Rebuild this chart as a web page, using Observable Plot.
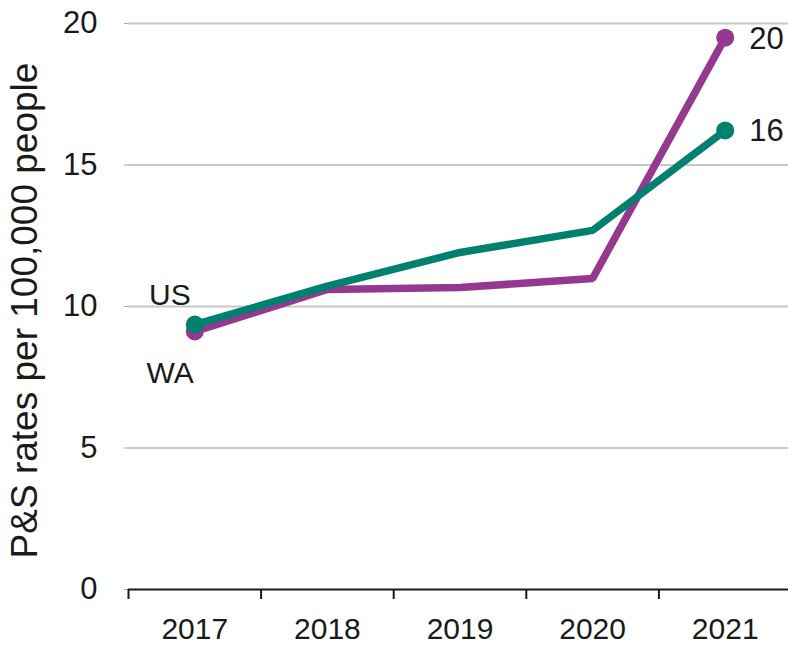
<!DOCTYPE html>
<html><head><meta charset="utf-8">
<script src="https://cdn.jsdelivr.net/npm/d3@7"></script>
<script src="https://cdn.jsdelivr.net/npm/@observablehq/plot@0.6"></script>
<style>
body{margin:0;background:#fff}
svg{font-family:"Liberation Sans",Arial,Helvetica,sans-serif}
</style>
</head><body><div id="chart"></div>
<script>
const years = [2017, 2018, 2019, 2020, 2021];
const waValues = [9.12, 10.6, 10.67, 10.99, 19.5];
const usValues = [9.36, 10.72, 11.91, 12.69, 16.22];
const yTicks = [0, 5, 10, 15, 20];
const gridTicks = [5, 10, 15, 20];
const bandEdges = [2016.5, 2017.5, 2018.5, 2019.5, 2020.5];
const seriesNames = ["WA", "US"];
const seriesColors = ["#953890", "#00806F"];
const yLabel = "P&S rates per 100,000 people";

const rows = [];
years.forEach((yr, i) => {
  rows.push({series: "WA", year: yr, value: waValues[i]});
});
years.forEach((yr, i) => {
  rows.push({series: "US", year: yr, value: usValues[i]});
});
const firstYear = years[0], lastYear = years[years.length - 1];
const endpoints = rows.filter(d => d.year === firstYear || d.year === lastYear);
const startWA = [{series: "WA", year: firstYear, value: waValues[0]}];
const startUS = [{series: "US", year: firstYear, value: usValues[0]}];
const ends = rows.filter(d => d.year === lastYear);

const chart = Plot.plot({
  width: 788,
  height: 645,
  marginLeft: 128,
  marginRight: -3,
  marginTop: 23,
  marginBottom: 56,
  x: {domain: [2016.5, 2021.5]},
  y: {domain: [0, 20]},
  color: {domain: seriesNames, range: seriesColors},
  marks: [
    Plot.gridY(gridTicks, {stroke: "#c8c8c8", strokeOpacity: 1, strokeWidth: 2}),
    Plot.axisY(yTicks, {tickSize: 4, tickPadding: 27, stroke: "#aaa", fill: "#1a1a1a", fontSize: 31, label: null}),
    Plot.ruleY([0], {stroke: "#1a1a1a", strokeWidth: 2}),
    Plot.axisX(bandEdges, {tickSize: 10, tickFormat: () => "", stroke: "#1a1a1a", strokeWidth: 2, label: null}),
    Plot.axisX(years, {tickSize: 0, tickPadding: 28, fontSize: 30, fill: "#1a1a1a", tickFormat: d => String(d), label: null}),
    Plot.line(rows, {x: "year", y: "value", z: "series", stroke: "series", strokeWidth: 7.5, strokeLinejoin: "miter"}),
    Plot.dot(endpoints, {x: "year", y: "value", fill: "series", r: 9}),
    Plot.text(startUS, {x: "year", y: "value", text: "series", textAnchor: "end", dx: -4, dy: -29, fontSize: 30, fill: "#1a1a1a"}),
    Plot.text(startWA, {x: "year", y: "value", text: "series", textAnchor: "end", dx: -1, dy: 42, fontSize: 30, fill: "#1a1a1a"}),
    Plot.text(ends, {x: "year", y: "value", text: d => String(Math.round(d.value)), textAnchor: "start", dx: 24, dy: 1, fontSize: 31, fill: "#1a1a1a"}),
    Plot.text([yLabel], {frameAnchor: "left", text: d => d, rotate: -90, dx: -103, dy: 4, fontSize: 37, fill: "#1a1a1a", textAnchor: "middle"})
  ]
});
document.getElementById("chart").appendChild(chart);
</script>
</body></html>
